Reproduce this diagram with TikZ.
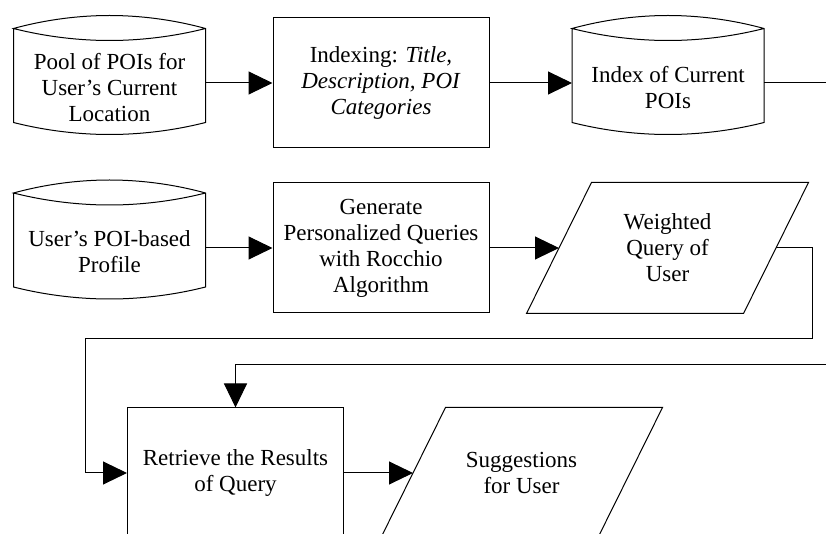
\documentclass[tikz,border=0pt]{standalone}
\usepackage{fontspec}
\setmainfont{Liberation Serif}
\usetikzlibrary{arrows.meta}

\begin{document}
\begin{tikzpicture}
  [
    x = 0.5pt, y = -0.5pt, line width = 0.5pt,
    every node/.style = {align = center, inner sep = 0pt,
      font = \fontsize{11.5}{13}\selectfont},
    process/.style = {draw, rectangle, minimum width = 108pt, minimum height = 65pt},
    store/.style = {minimum width = 95.5pt, minimum height = 46.5pt,
      append after command = {\pgfextra{
        \draw ([yshift=6pt]\tikzlastnode.north west) -- ([yshift=6pt]\tikzlastnode.south west)
          parabola bend (\tikzlastnode.south) ([yshift=6pt]\tikzlastnode.south east)
          -- ([yshift=6pt]\tikzlastnode.north east)
          parabola bend ([yshift=12.5pt]\tikzlastnode.north) ([yshift=6pt]\tikzlastnode.north west)
          parabola bend (\tikzlastnode.north) ([yshift=6pt]\tikzlastnode.north east);
      }}},
    data/.style = {minimum width = 108pt, minimum height = 65pt,
      append after command = {\pgfextra{
        \draw ([xshift=-16.25pt]\tikzlastnode.south west) -- ([xshift=16.25pt]\tikzlastnode.north west)
          -- ([xshift=16.25pt]\tikzlastnode.north east) -- ([xshift=-16.25pt]\tikzlastnode.south east) -- cycle;
      }}},
    flow/.style = {-{Triangle[length=12pt, width=11.5pt]}}
  ]
  \useasboundingbox (0,0) rectangle (826,534);
  \clip (0,0) rectangle (826,534);

  % first row
  \node[store] (pool) at (109.5,87.5) {Pool of POIs for\\User's Current\\Location};
  \node[process] (indexing) at (381,83)
    {Indexing: \textit{Title,}\\\textit{Description, POI}\\\textit{Categories}};
  \node[store] (index) at (668,87.5) {Index of Current\\POIs};

  % second row
  \node[store] (profile) at (109.5,252) {User's POI-based\\Profile};
  \node[process] (generate) at (381,248)
    {Generate\\Personalized Queries\\with Rocchio\\Algorithm};
  \node[data] (weighted) at (667.5,248) {Weighted\\Query of\\User};

  % third row
  \node[process] (retrieve) at (235.5,473) {Retrieve the Results\\of Query};
  \node[data] (suggest) at (521.5,473) {Suggestions\\for User};

  \coordinate (exit) at (830,83);
  \coordinate (entry) at (830,365);
  \coordinate (loopR) at (812,339);
  \coordinate (loopL) at (85,339);

  \draw[flow] (pool.east |- indexing.west) -- (indexing.west);
  \draw[flow] (indexing.east) -- (indexing.east -| index.west);
  \draw (index.east |- exit) -- (exit);
  \draw[flow] (profile.east |- generate.west) -- (generate.west);
  \draw[flow] (generate.east) -- (weighted.west);
  \draw[flow] (weighted.east) -| (loopR) -- (loopL) |- (retrieve.west);
  \draw[flow] (entry) -| (retrieve.north);
  \draw[flow] (retrieve.east) -- (suggest.west);
\end{tikzpicture}
\end{document}
